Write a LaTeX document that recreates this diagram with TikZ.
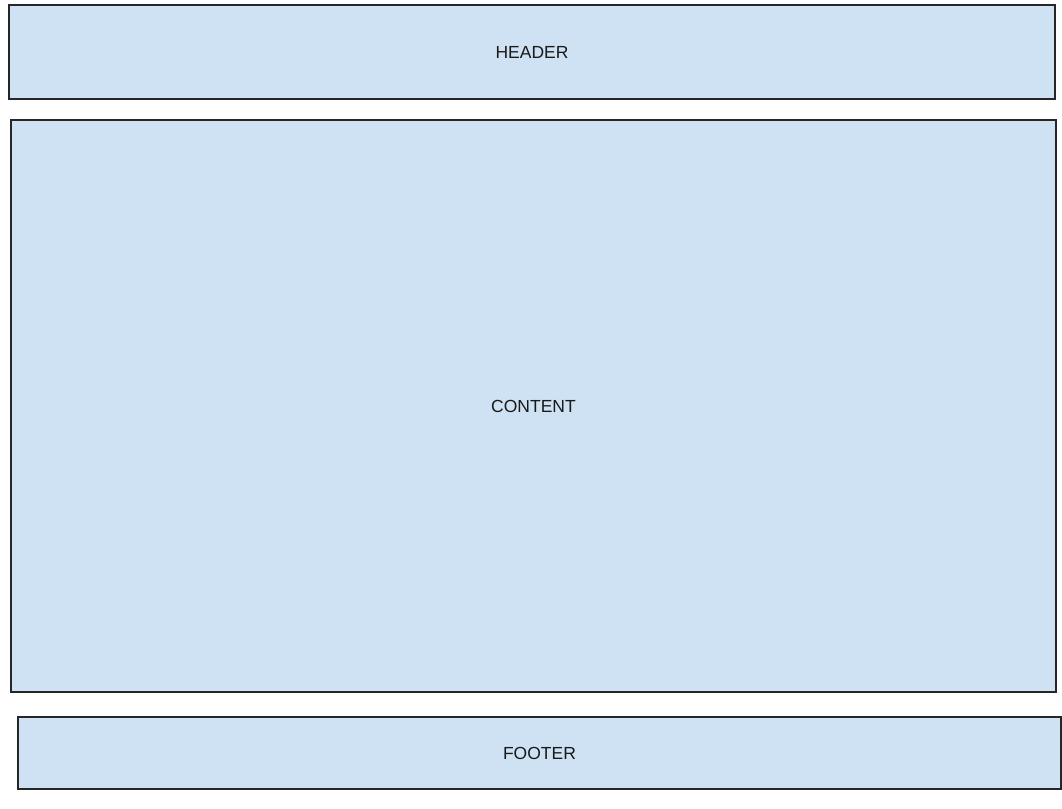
\documentclass[tikz,border=0pt]{standalone}
\usepackage{fontspec}
\setmainfont{Liberation Sans}
\tikzset{
    pagebox/.style={draw=black!85, fill=boxblue, line width=1.4pt, inner sep=0pt,
        font=\fontsize{17.5}{20}\selectfont, text=black!90}
}
\definecolor{boxblue}{HTML}{CFE2F3}
\begin{document}
\begin{tikzpicture}[x=1pt, y=-1pt]
    \useasboundingbox (0,0) rectangle (1062,808);
    \node[pagebox, minimum width=1046pt, minimum height=94pt] (header) at (532, 52) {HEADER};
    \node[pagebox, minimum width=1045pt, minimum height=572pt] (content) at (533.5, 406) {CONTENT};
    \node[pagebox, minimum width=1043pt, minimum height=72pt] (footer) at (539.5, 753) {FOOTER};
\end{tikzpicture}
\end{document}
